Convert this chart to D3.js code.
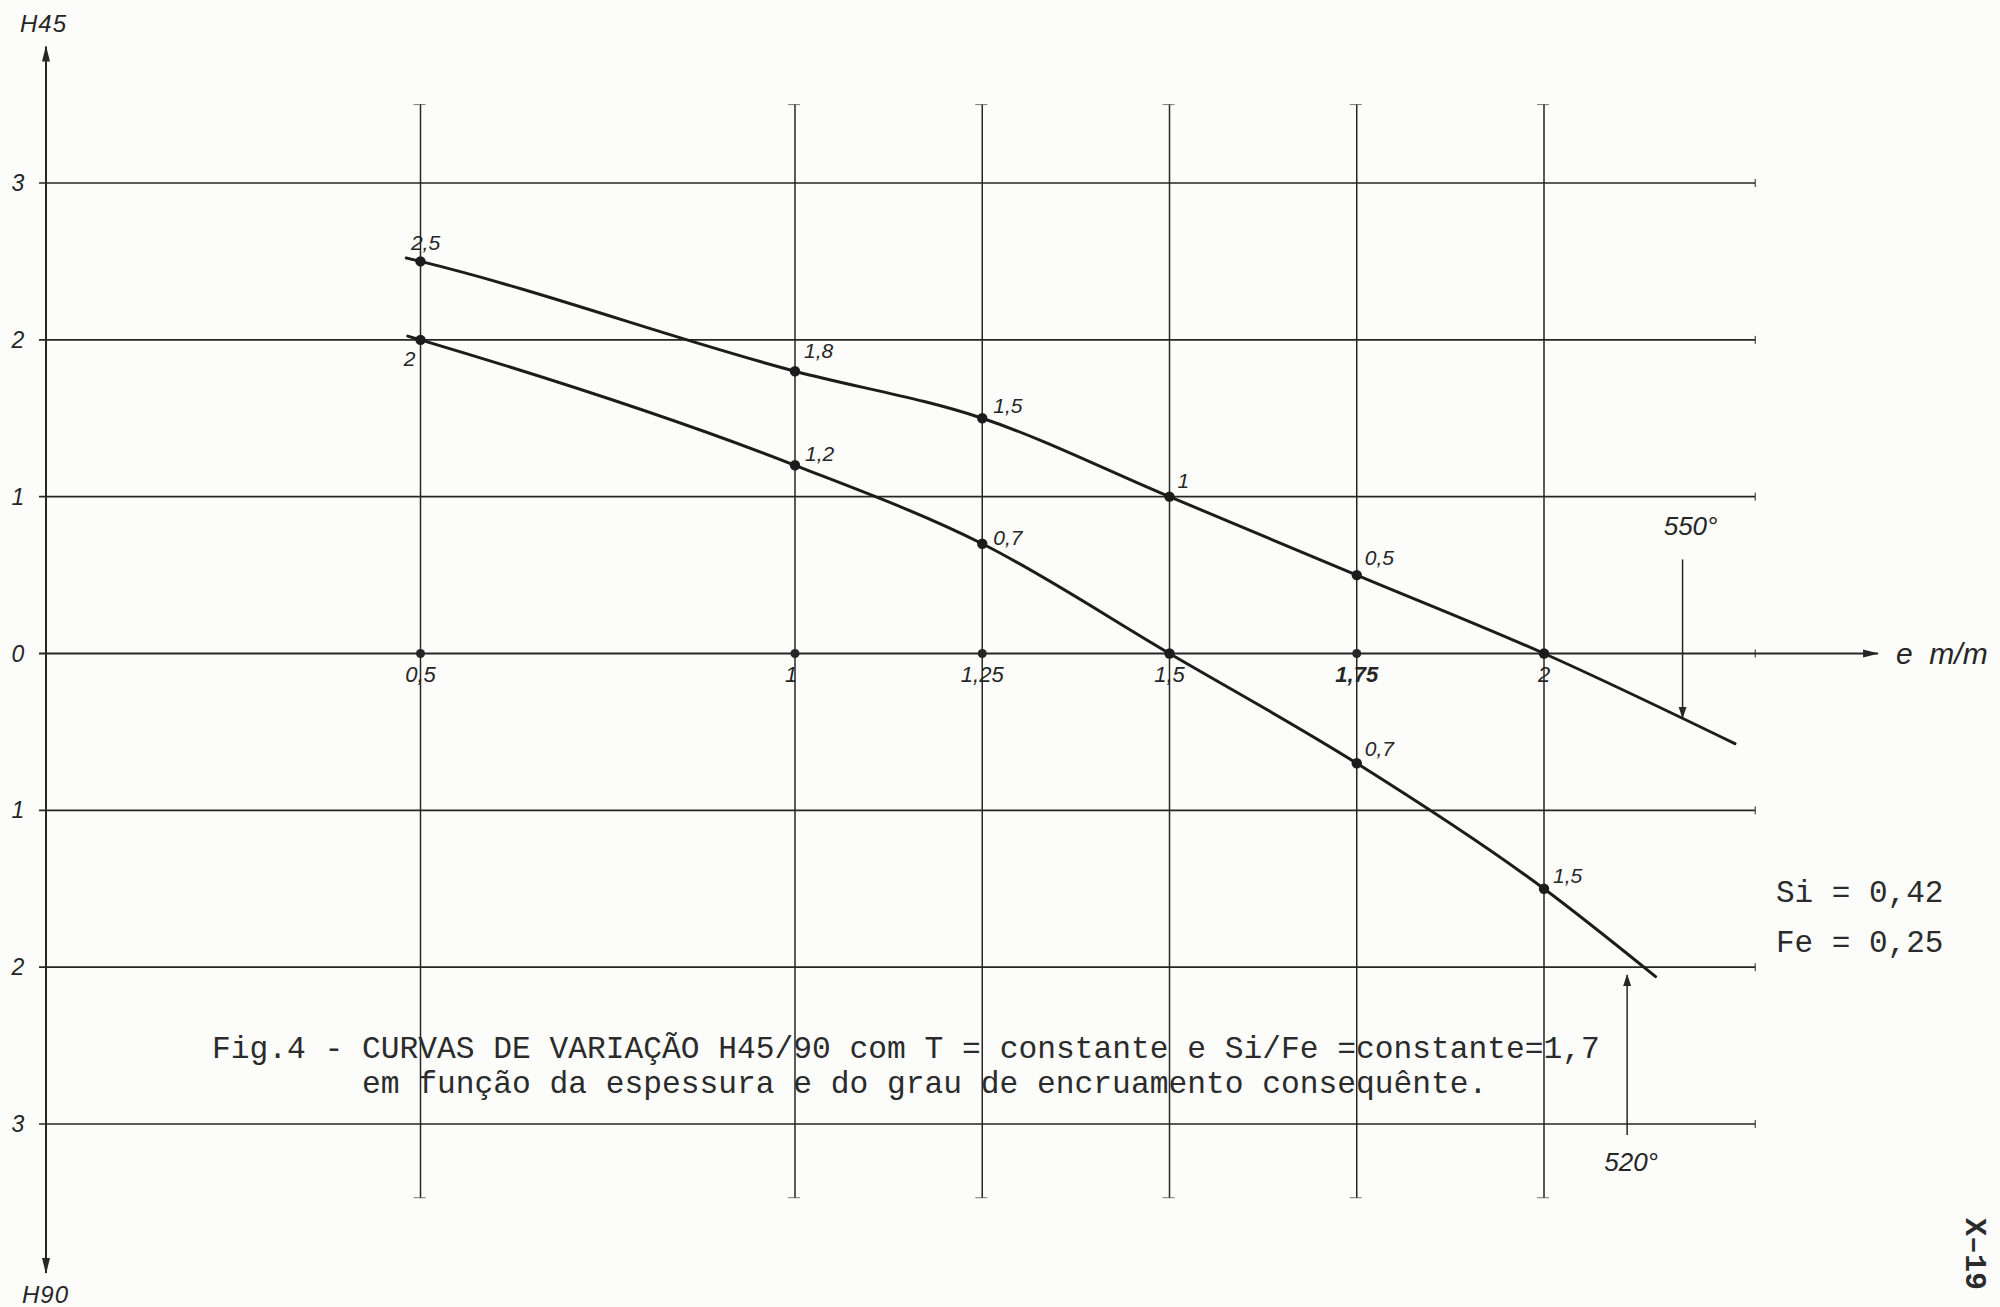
<!DOCTYPE html>
<html>
<head>
<meta charset="utf-8">
<script src="https://cdn.jsdelivr.net/npm/d3@7"></script>
<style>
  html, body { margin: 0; padding: 0; background: #fcfcfb; }
  svg { display: block; }
</style>
</head>
<body>
<svg id="chart" width="2000" height="1307"></svg>
<script>
// Thickness e (m/m) where the vertical rulings and measured points sit
const thickness = [0.5, 1, 1.25, 1.5, 1.75, 2];
const thicknessLabels = ["0,5", "1", "1,25", "1,5", "1,75", "2"];

// H45 is read upwards (positive), H90 downwards (negative)
const hTicks = [3, 2, 1, 0, -1, -2, -3];
const hTickLabels = ["3", "2", "1", "0", "1", "2", "3"];

// Curve annealed at 550°: measured values at each thickness
const values550 = [2.5, 1.8, 1.5, 1, 0.5, 0];
const labels550 = ["2,5", "1,8", "1,5", "1", "0,5", null];
const ends550 = [[0.481, 2.522], [2.255, -0.575]];

// Curve annealed at 520°
const values520 = [2, 1.2, 0.7, 0, -0.7, -1.5];
const labels520 = ["2", "1,2", "0,7", null, "0,7", "1,5"];
const ends520 = [[0.483, 2.024], [2.149, -2.06]];

// Pointer arrows naming each curve: thickness, start value, end value
const arrow550 = [2.185, 0.6, -0.41];
const arrow520 = [2.111, -3.07, -2.05];

const composition = ["Si = 0,42", "Fe = 0,25"];
const captionLines = [
  "Fig.4 - CURVAS DE VARIAÇÃO H45/90 com T = constante e Si/Fe =constante=1,7",
  "em função da espessura e do grau de encruamento consequênte."
];

const svg = d3.select("#chart");
const x = d3.scaleLinear().domain([0, 2]).range([46, 1544]);
const y = d3.scaleLinear().domain([-3, 3]).range([1124, 183]);

const ink = "#262626";
const handFont = "'Liberation Sans', 'DejaVu Sans', sans-serif";
const typeFont = "'Liberation Mono', 'DejaVu Sans Mono', monospace";

// arrowheads
const defs = svg.append("defs");
defs.append("marker")
  .attr("id", "head").attr("viewBox", "0 -5 12 10")
  .attr("refX", 11).attr("refY", 0)
  .attr("markerWidth", 12).attr("markerHeight", 10)
  .attr("markerUnits", "userSpaceOnUse")
  .attr("orient", "auto")
  .append("path").attr("d", "M0,-4L12,0L0,4Z").attr("fill", ink);
defs.append("marker")
  .attr("id", "bighead").attr("viewBox", "0 -5 16 10")
  .attr("refX", 15).attr("refY", 0)
  .attr("markerWidth", 16).attr("markerHeight", 10)
  .attr("markerUnits", "userSpaceOnUse")
  .attr("orient", "auto")
  .append("path").attr("d", "M0,-4L16,0L0,4Z").attr("fill", ink);

const gridRight = 2.282;   // right end of the horizontal rulings (in e)
const vTop = 3.5, vBottom = -3.47;

// horizontal rulings (value 0 is the e axis, drawn separately)
svg.append("g").selectAll("line")
  .data(hTicks.filter(d => d !== 0))
  .join("line")
  .attr("x1", x(0) - 7).attr("x2", x(gridRight))
  .attr("y1", d => y(d)).attr("y2", d => y(d))
  .attr("stroke", ink).attr("stroke-width", 1.6);

// small end serifs on the rulings
svg.append("g").selectAll("line")
  .data(hTicks)
  .join("line")
  .attr("x1", x(gridRight)).attr("x2", x(gridRight))
  .attr("y1", d => y(d) - 4).attr("y2", d => y(d) + 4)
  .attr("stroke", ink).attr("stroke-width", 1);

// vertical rulings
const vg = svg.append("g");
vg.selectAll("line.v")
  .data(thickness)
  .join("line").attr("class", "v")
  .attr("x1", d => x(d)).attr("x2", d => x(d))
  .attr("y1", y(vTop)).attr("y2", y(vBottom))
  .attr("stroke", ink).attr("stroke-width", 1.5);
vg.selectAll("line.cap")
  .data(thickness.flatMap(d => [[d, vTop], [d, vBottom]]))
  .join("line").attr("class", "cap")
  .attr("x1", d => x(d[0]) - 7).attr("x2", d => x(d[0]) + 5)
  .attr("y1", d => y(d[1])).attr("y2", d => y(d[1]))
  .attr("stroke", ink).attr("stroke-width", 1).attr("opacity", 0.6);

// H axis (arrow both ways)
svg.append("line")
  .attr("x1", x(0)).attr("x2", x(0))
  .attr("y1", y(0)).attr("y2", y(3.87))
  .attr("stroke", ink).attr("stroke-width", 2)
  .attr("marker-end", "url(#bighead)");
svg.append("line")
  .attr("x1", x(0)).attr("x2", x(0))
  .attr("y1", y(0)).attr("y2", y(-3.95))
  .attr("stroke", ink).attr("stroke-width", 2)
  .attr("marker-end", "url(#bighead)");

// e axis
svg.append("line")
  .attr("x1", x(0) - 7).attr("x2", x(2.446))
  .attr("y1", y(0)).attr("y2", y(0))
  .attr("stroke", ink).attr("stroke-width", 2)
  .attr("marker-end", "url(#bighead)");

// H tick labels
svg.append("g").selectAll("text")
  .data(hTicks)
  .join("text")
  .attr("x", 18).attr("y", d => y(d) + 8)
  .attr("text-anchor", "middle")
  .attr("font-family", handFont).attr("font-style", "italic")
  .attr("font-size", 23).attr("fill", ink)
  .text((d, i) => hTickLabels[i]);

// axis titles
svg.append("text").attr("x", 20).attr("y", 32)
  .attr("font-family", handFont).attr("font-style", "italic")
  .attr("font-size", 24).attr("fill", ink).attr("letter-spacing", 1)
  .text("H45");
svg.append("text").attr("x", 22).attr("y", 1303)
  .attr("font-family", handFont).attr("font-style", "italic")
  .attr("font-size", 24).attr("fill", ink).attr("letter-spacing", 1)
  .text("H90");
svg.append("text").attr("x", 1896).attr("y", 664)
  .attr("font-family", handFont).attr("font-style", "italic")
  .attr("font-size", 30).attr("fill", ink)
  .attr("xml:space", "preserve")
  .text("e  m/m");

// dots and labels on the e axis
svg.append("g").selectAll("circle")
  .data(thickness)
  .join("circle")
  .attr("cx", d => x(d)).attr("cy", y(0)).attr("r", 4.5)
  .attr("fill", ink);
const xLabelShift = [0, -4, 0, 0, 0, 0];
svg.append("g").selectAll("text")
  .data(thickness)
  .join("text")
  .attr("x", (d, i) => x(d) + xLabelShift[i]).attr("y", y(0) + 28)
  .attr("text-anchor", "middle")
  .attr("font-family", handFont).attr("font-style", "italic")
  .attr("font-size", 22).attr("fill", ink)
  .attr("font-weight", (d, i) => i === 4 ? "bold" : "normal")
  .text((d, i) => thicknessLabels[i]);

// curves
const line = d3.line()
  .x(d => x(d[0])).y(d => y(d[1]))
  .curve(d3.curveMonotoneX);

function drawCurve(values, ends, labels, offsets) {
  const pts = [ends[0], ...thickness.map((t, i) => [t, values[i]]), ends[1]];
  svg.append("path")
    .attr("d", line(pts))
    .attr("fill", "none").attr("stroke", "#1c1c1c")
    .attr("stroke-width", 3).attr("stroke-linecap", "round");
  const marked = thickness.map((t, i) => ({ t, v: values[i], label: labels[i], off: offsets[i] }));
  svg.append("g").selectAll("circle")
    .data(marked)
    .join("circle")
    .attr("cx", d => x(d.t)).attr("cy", d => y(d.v)).attr("r", 5.2)
    .attr("fill", "#1c1c1c");
  svg.append("g").selectAll("text")
    .data(marked.filter(d => d.label))
    .join("text")
    .attr("x", d => x(d.t) + d.off[0]).attr("y", d => y(d.v) + d.off[1])
    .attr("text-anchor", d => d.off[2] || "start")
    .attr("font-family", handFont).attr("font-style", "italic")
    .attr("font-size", 21).attr("fill", ink)
    .text(d => d.label);
}

drawCurve(values550, ends550, labels550,
  [[5, -11, "middle"], [9, -13], [11, -5], [8, -9], [8, -10], [0, 0]]);
drawCurve(values520, ends520, labels520,
  [[-5, 26, "end"], [10, -4], [11, 1], [0, 0], [8, -7], [9, -6]]);

// pointer arrows with temperatures
svg.append("line")
  .attr("x1", x(arrow550[0])).attr("x2", x(arrow550[0]))
  .attr("y1", y(arrow550[1])).attr("y2", y(arrow550[2]))
  .attr("stroke", ink).attr("stroke-width", 1.5)
  .attr("marker-end", "url(#head)");
svg.append("text")
  .attr("x", x(arrow550[0]) + 8).attr("y", y(arrow550[1]) - 24)
  .attr("text-anchor", "middle")
  .attr("font-family", handFont).attr("font-style", "italic")
  .attr("font-size", 26).attr("fill", ink)
  .text("550°");

svg.append("line")
  .attr("x1", x(arrow520[0])).attr("x2", x(arrow520[0]))
  .attr("y1", y(arrow520[1])).attr("y2", y(arrow520[2]))
  .attr("stroke", ink).attr("stroke-width", 1.5)
  .attr("marker-end", "url(#head)");
svg.append("text")
  .attr("x", x(arrow520[0]) + 4).attr("y", y(arrow520[1]) + 36)
  .attr("text-anchor", "middle")
  .attr("font-family", handFont).attr("font-style", "italic")
  .attr("font-size", 26).attr("fill", ink)
  .text("520°");

// composition, typed
svg.append("g").selectAll("text")
  .data(composition)
  .join("text")
  .attr("x", 1776).attr("y", (d, i) => 902 + i * 50)
  .attr("font-family", typeFont).attr("font-size", 31)
  .attr("fill", "#2b2b2b")
  .attr("xml:space", "preserve")
  .text(d => d);

// caption, typed
svg.append("g").selectAll("text")
  .data(captionLines)
  .join("text")
  .attr("x", (d, i) => i === 0 ? 212 : 212 + 8 * 18.75)
  .attr("y", (d, i) => 1058 + i * 35)
  .attr("font-family", typeFont).attr("font-size", 31.25)
  .attr("fill", "#2b2b2b")
  .attr("xml:space", "preserve")
  .text(d => d);

// page number at the edge
svg.append("text")
  .attr("transform", "translate(1966,1218) rotate(90)")
  .attr("font-family", typeFont)
  .attr("font-weight", "bold").attr("font-size", 30)
  .attr("fill", "#2b2b2b")
  .text("X–19");
</script>
</body>
</html>
